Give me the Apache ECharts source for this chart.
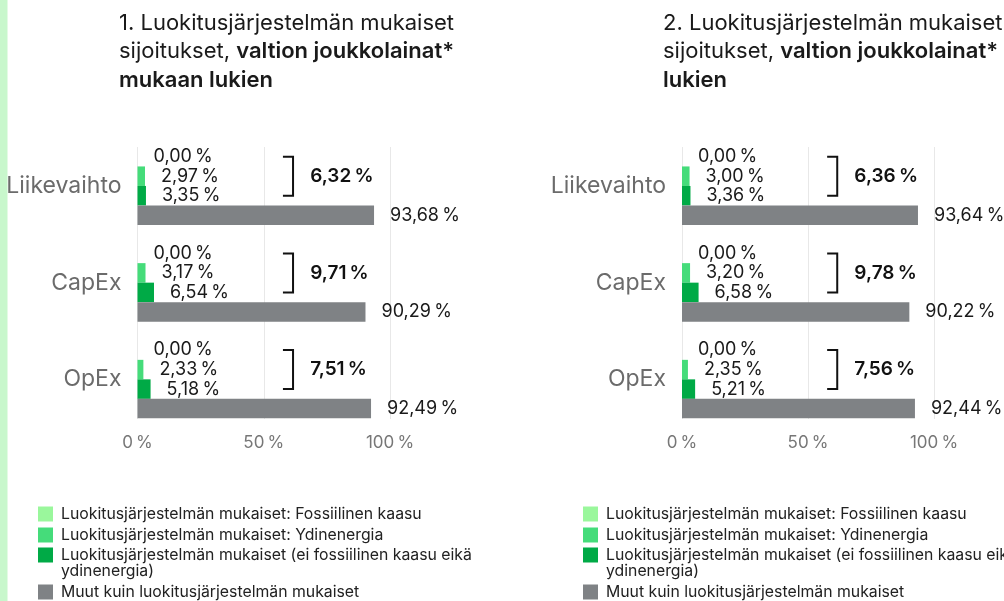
<!DOCTYPE html>
<html>
<head>
<meta charset="utf-8">
<script src="https://cdn.jsdelivr.net/npm/echarts@6/dist/echarts.min.js"></script>
<style>
  html, body { margin: 0; padding: 0; background: #ffffff; }
  #chart { width: 1004px; height: 601px; }
</style>
</head>
<body>
<div id="chart"></div>
<script>
// Categories (rows) shared by both panels
const categories = ['Liikevaihto', 'CapEx', 'OpEx'];

// Series names (legend entries)
const nameFossil = 'Luokitusjärjestelmän mukaiset: Fossiilinen kaasu';
const nameNuclear = 'Luokitusjärjestelmän mukaiset: Ydinenergia';
const nameAligned = 'Luokitusjärjestelmän mukaiset (ei fossiilinen kaasu eikä ydinenergia)';
const nameOther = 'Muut kuin luokitusjärjestelmän mukaiset';

// Panel 1: valtion joukkolainat mukaan lukien (%)
const p1Fossil = [0.00, 0.00, 0.00];
const p1Nuclear = [2.97, 3.17, 2.33];
const p1Aligned = [3.35, 6.54, 5.18];
const p1Other = [93.68, 90.29, 92.49];

// Panel 2: valtion joukkolainat pois lukien (%)
const p2Fossil = [0.00, 0.00, 0.00];
const p2Nuclear = [3.00, 3.20, 2.35];
const p2Aligned = [3.36, 6.58, 5.21];
const p2Other = [93.64, 90.22, 92.44];

// Value axis ticks
const tickValues = [0, 50, 100];

const FONT = 'Inter, "Noto Sans", sans-serif';
const COLORS = {
  fossil: '#9af79c',
  nuclear: '#45dc7a',
  aligned: '#00aa46',
  other: '#7f8285'
};
const CAT_GAP = 0.193;      // share of a category band left empty
const BRACKET_X0 = 57.6;    // bracket start (axis units)
const BRACKET_X1 = 61.6;    // bracket end (axis units)
const TOTAL_X = 68.4;       // total label start (axis units)

// Square legend icon sitting on the first line of a two-line entry
const TALL_ICON = 'path://M0,0H15V15H0Z M0,31L0.01,31';

function fmt(v) {
  return v.toFixed(2).replace('.', ',') + '\u2009%';
}

function sumAligned(fossil, nuclear, aligned) {
  return categories.map((c, i) => Math.round((fossil[i] + nuclear[i] + aligned[i]) * 100) / 100);
}

function barSeries(name, data, color, axisIdx) {
  return {
    type: 'bar',
    name: name,
    xAxisIndex: axisIdx,
    yAxisIndex: axisIdx,
    data: data,
    barGap: '0%',
    barCategoryGap: (CAT_GAP * 100) + '%',
    itemStyle: { color: color },
    label: {
      show: true,
      position: 'right',
      distance: 16,
      fontSize: 18,
      fontFamily: FONT,
      color: '#1a1a1a',
      formatter: p => fmt(p.value)
    },
    emphasis: { disabled: true },
    z: 3
  };
}

function bracketSeries(totals, axisIdx) {
  return {
    type: 'custom',
    xAxisIndex: axisIdx,
    yAxisIndex: axisIdx,
    encode: { x: 1, y: 0 },
    data: totals.map((t, i) => [i, t]),
    renderItem: function (params, api) {
      const cat = api.value(0);
      const total = api.value(1);
      const c = api.coord([0, cat]);
      const band = api.size([0, 1])[1];
      const barW = band * (1 - CAT_GAP) / 4;
      const groupTop = c[1] - 2 * barW;
      const y0 = groupTop + barW / 2;
      const y1 = groupTop + 2.5 * barW;
      const xa = api.coord([BRACKET_X0, cat])[0];
      const xb = api.coord([BRACKET_X1, cat])[0];
      const xt = api.coord([TOTAL_X, cat])[0];
      return {
        type: 'group',
        children: [
          {
            type: 'polyline',
            shape: { points: [[xa, y0], [xb, y0], [xb, y1], [xa, y1]] },
            style: { stroke: '#111111', lineWidth: 2, fill: null }
          },
          {
            type: 'text',
            style: {
              x: xt, y: (y0 + y1) / 2,
              text: fmt(total),
              fontSize: 19, fontWeight: 600, fontFamily: FONT,
              fill: '#111111', align: 'left', verticalAlign: 'middle'
            }
          }
        ]
      };
    },
    z: 4
  };
}

const p1Totals = sumAligned(p1Fossil, p1Nuclear, p1Aligned);
const p2Totals = sumAligned(p2Fossil, p2Nuclear, p2Aligned);

const panels = [
  { left: 137.5, width: 252.5, legendLeft: 38, titleLeft: 119,
    title: '1. Luokitusjärjestelmän mukaiset\nsijoitukset, {b|valtion joukkolainat*}\n{b|mukaan lukien}' },
  { left: 682, width: 252, legendLeft: 583, titleLeft: 663,
    title: '2. Luokitusjärjestelmän mukaiset\nsijoitukset, {b|valtion joukkolainat* pois}\n{b|lukien}' }
];

const grids = [], xAxes = [], yAxes = [], titles = [], legends = [];
panels.forEach((p, k) => {
  // bar grid (band layout)
  grids.push({ left: p.left, width: p.width, top: 137.6, height: 290.1 });
  // gridline grid (spans the bar groups only)
  grids.push({ left: p.left, width: p.width, top: 147, height: 272 });

  xAxes.push({ gridIndex: 2 * k, type: 'value', min: 0, max: 100, show: false });
  xAxes.push({
    gridIndex: 2 * k + 1, type: 'value', min: tickValues[0], max: tickValues[tickValues.length - 1],
    interval: tickValues[1] - tickValues[0],
    axisLine: { show: false }, axisTick: { show: false },
    splitLine: { show: true, lineStyle: { color: '#e8e8e8', width: 1 } },
    axisLabel: { margin: 15, fontSize: 17, fontFamily: FONT, color: '#777777',
                 formatter: v => v + '\u2009%' }
  });
  yAxes.push({
    gridIndex: 2 * k, type: 'category', inverse: true, data: categories,
    axisLine: { show: false }, axisTick: { show: false }, splitLine: { show: false },
    axisLabel: { margin: 16, fontSize: 23, fontFamily: FONT, color: '#6b6b6b' }
  });
  yAxes.push({ gridIndex: 2 * k + 1, type: 'value', show: false, min: 0, max: 1 });

  titles.push({
    left: p.titleLeft, top: 9, padding: 0,
    text: p.title,
    textStyle: {
      fontSize: 22, fontWeight: 'normal', fontFamily: FONT, color: '#1a1a1a', lineHeight: 28.5,
      rich: { b: { fontSize: 22, fontWeight: 600, fontFamily: FONT, color: '#1a1a1a', lineHeight: 28.5 } }
    }
  });

  const legendItems = [
    { name: nameFossil, top: 506, text: nameFossil, h: 15, icon: 'rect' },
    { name: nameNuclear, top: 527, text: nameNuclear, h: 15, icon: 'rect' },
    { name: nameAligned, top: 547, text: 'Luokitusjärjestelmän mukaiset (ei fossiilinen kaasu eikä\nydinenergia)', h: 31, icon: TALL_ICON },
    { name: nameOther, top: 584, text: nameOther, h: 15, icon: 'rect' }
  ];
  legendItems.forEach(it => {
    legends.push({
      left: p.legendLeft, top: it.top, padding: 0, orient: 'vertical',
      itemWidth: 15, itemHeight: it.h, itemGap: 0, icon: it.icon,
      itemStyle: { borderWidth: 0 },
      selectedMode: false,
      data: [it.name],
      formatter: () => it.text,
      textStyle: { fontSize: 15.8, lineHeight: 16, fontFamily: FONT, color: '#222222', padding: [0, 0, 0, 3] }
    });
  });
});

const series = [
  barSeries(nameFossil, p1Fossil, COLORS.fossil, 0),
  barSeries(nameNuclear, p1Nuclear, COLORS.nuclear, 0),
  barSeries(nameAligned, p1Aligned, COLORS.aligned, 0),
  barSeries(nameOther, p1Other, COLORS.other, 0),
  bracketSeries(p1Totals, 0),
  barSeries(nameFossil, p2Fossil, COLORS.fossil, 2),
  barSeries(nameNuclear, p2Nuclear, COLORS.nuclear, 2),
  barSeries(nameAligned, p2Aligned, COLORS.aligned, 2),
  barSeries(nameOther, p2Other, COLORS.other, 2),
  bracketSeries(p2Totals, 2)
];

const chart = echarts.init(document.getElementById('chart'), null, { renderer: 'canvas' });
chart.setOption({
  animation: false,
  backgroundColor: '#ffffff',
  textStyle: { fontFamily: FONT },
  graphic: [
    { type: 'rect', left: 0, top: 0, shape: { x: 0, y: 0, width: 7.5, height: 601 },
      style: { fill: '#c8f7cc' }, z: 0 }
  ],
  title: titles,
  legend: legends,
  grid: grids,
  xAxis: xAxes,
  yAxis: yAxes,
  tooltip: { show: false },
  series: series
});
</script>
</body>
</html>
